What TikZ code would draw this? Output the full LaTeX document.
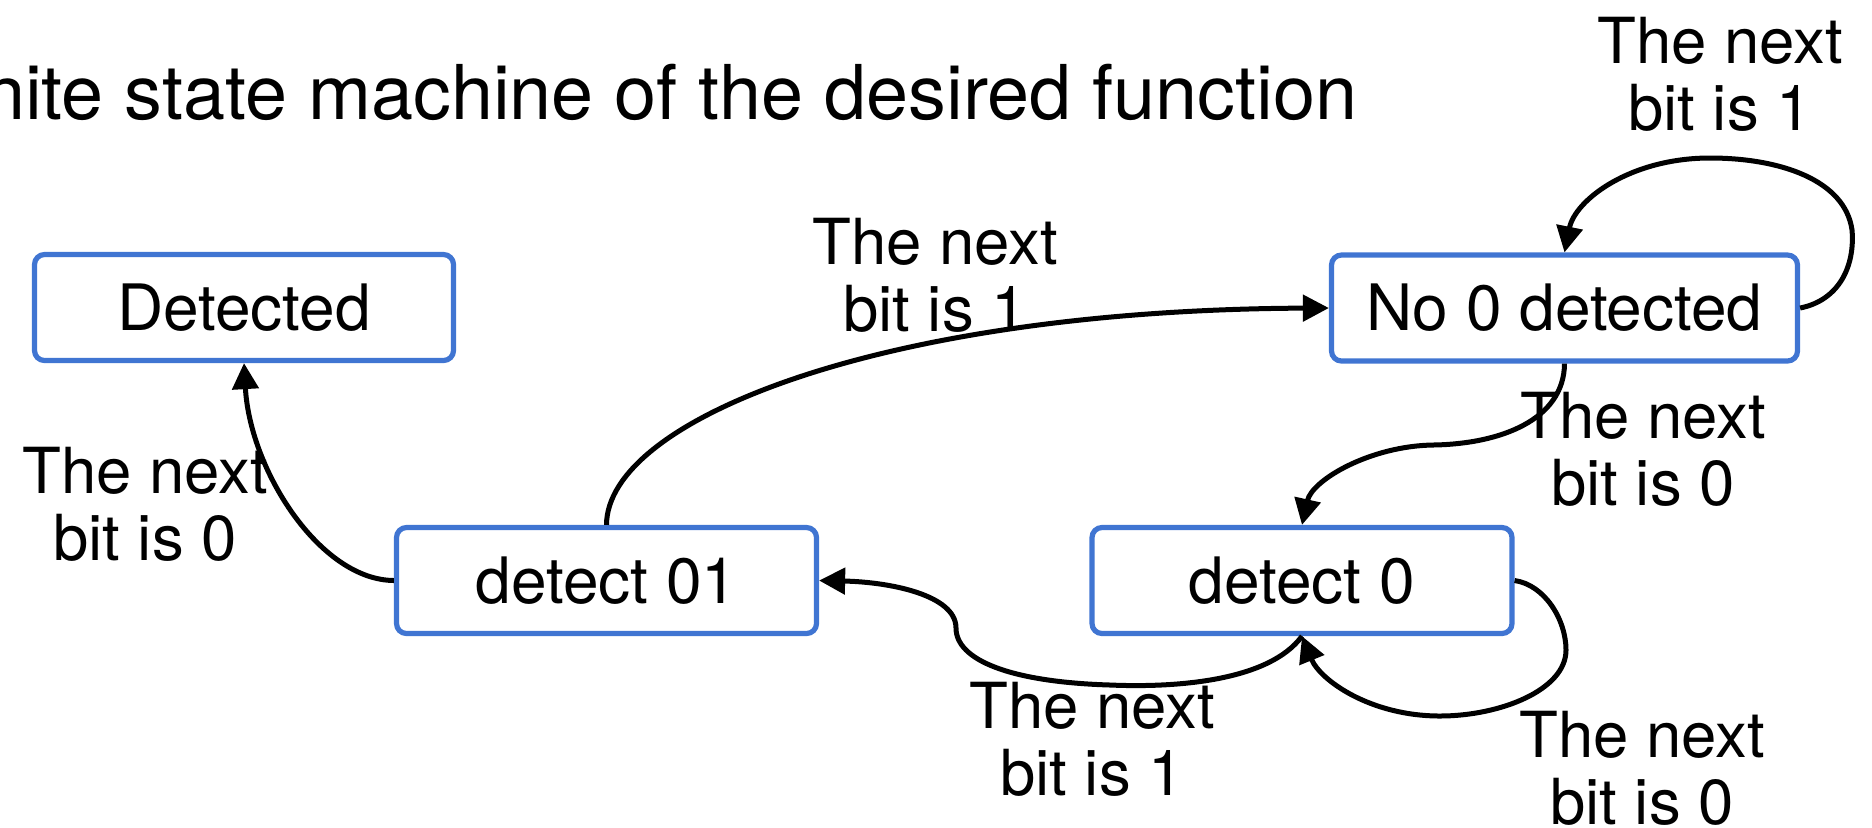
\documentclass[tikz,border=0pt]{standalone}
\usepackage{fontspec}
\setmainfont{TeX Gyre Heros}
\usetikzlibrary{arrows.meta}
\definecolor{stateblue}{RGB}{64,117,210}
\begin{document}
\begin{tikzpicture}[x=0.5pt,y=-0.5pt,
  state/.style={draw=stateblue, line width=2.6pt, rounded corners=5pt, fill=white,
    minimum height=53pt, inner sep=0pt, font=\fontsize{32}{34}\selectfont},
  lbl/.style={align=center, inner sep=0pt, font=\fontsize{31.75}{33.5}\selectfont},
  edge/.style={line width=2.5pt, -{Triangle[length=13pt,width=13pt]}},
]
\useasboundingbox (0,0) rectangle (1872,827);
\clip (0,0) rectangle (1872,827);

% heading
\node[anchor=base east, inner sep=0pt, font=\fontsize{37.8}{40}\selectfont] (title) at (1358,119)
  {Finite state machine of the desired function};

% states
\node[state, minimum width=209.5pt] (det) at (244,307.5)  {Detected};
\node[state, minimum width=233pt]   (no0) at (1564.5,308) {No 0 detected};
\node[state, minimum width=210pt]   (d01) at (606.5,580.5) {detect 01};
\node[state, minimum width=210pt]   (d0)  at (1302,580.5) {detect 0};

% transitions
\draw[edge] (d01.west) .. controls (320,580) and (250,470) .. (det.south);
\draw[edge] (d01.north) .. controls (607,420) and (880,310) .. (no0.west);
\draw[edge] (no0.east) .. controls (1840,300) and (1855,265) .. (1852,230)
  .. controls (1845,180) and (1780,158) .. (1710,158)
  .. controls (1630,158) and (1575,200) .. (no0.north);
\draw[edge] (no0.south) .. controls (1564,420) and (1500,444) .. (1433,445)
  .. controls (1370,446) and (1312,480) .. (d0.north);
\draw[edge] (d0.south) .. controls (1270,680) and (1180,688) .. (1110,685)
  .. controls (1010,682) and (956,660) .. (956,628)
  .. controls (956,595) and (890,582) .. (d01.east);
\draw[edge] (d0.east) .. controls (1545,585) and (1566,620) .. (1566,650)
  .. controls (1566,690) and (1500,716) .. (1440,716)
  .. controls (1370,716) and (1320,680) .. (d0.south);

% transition labels
\node[lbl] (l1) at (1720,74)  {The next\\bit is 1};
\node[lbl] (l2) at (935,275)  {The next\\bit is 1};
\node[lbl] (l3) at (145,504)  {The next\\bit is 0};
\node[lbl] (l4) at (1643,449) {The next\\bit is 0};
\node[lbl] (l5) at (1092,739) {The next\\bit is 1};
\node[lbl] (l6) at (1642,768) {The next\\bit is 0};
\end{tikzpicture}
\end{document}
